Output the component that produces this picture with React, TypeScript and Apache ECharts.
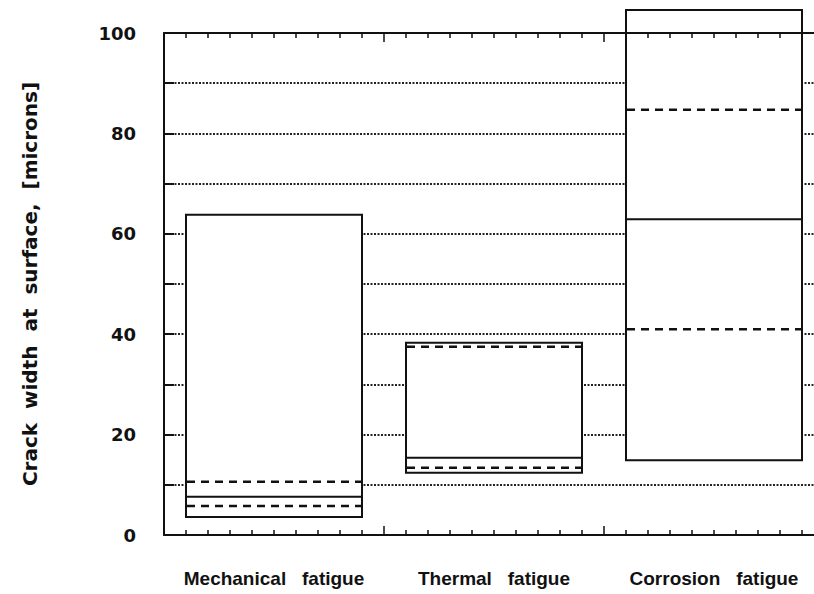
import React, { useEffect, useRef } from "react";
import * as echarts from "echarts";

const categories = ["Mechanical fatigue", "Thermal fatigue", "Corrosion fatigue"];
const boxLow = [3.6, 12.4, 14.9];
const boxHigh = [63.8, 38.3, 104.6];
const meanVal = [7.6, 15.4, 62.9];
const dashLow = [5.8, 13.4, 41.0];
const dashHigh = [10.6, 37.5, 84.7];
const yTicks = [0, 20, 40, 60, 80, 100];
const yName = "Crack width at surface, [microns]";

const INK = "#111";

export default function App() {
  const ref = useRef<HTMLDivElement>(null);
  useEffect(() => {
    document.body.style.margin = "0";
    const chart = echarts.init(ref.current!, null, { renderer: "svg" });
    const data = categories.map((c, i) => [i, boxLow[i], boxHigh[i], meanVal[i], dashLow[i], dashHigh[i]]);
    const tickAxis = (position: string, z: number) => ({
      type: "value",
      min: 0,
      max: 3,
      interval: 1,
      position,
      z,
      axisLine: { show: true, onZero: false, lineStyle: { color: INK, width: 2 } },
      axisTick: { show: true, inside: true, length: 9, lineStyle: { color: INK, width: 1.5 } },
      minorTick: { show: true, splitNumber: 10, length: 5, lineStyle: { color: INK, width: 1.5 } },
      axisLabel: { show: false },
      splitLine: { show: false },
      minorSplitLine: { show: false },
    });
    chart.setOption({
      animation: false,
      backgroundColor: "#fff",
      grid: { left: 164, top: 33, height: 502, width: 660, outerBoundsMode: "none", containLabel: false },
      xAxis: [
        {
          type: "category",
          data: categories,
          position: "bottom",
          axisLine: { show: false, onZero: false },
          axisTick: { show: false },
          splitLine: { show: false },
          axisLabel: {
            interval: 0,
            margin: 34,
            fontSize: 19,
            fontWeight: "bold",
            fontFamily: "Liberation Sans Narrow, Liberation Sans, Arial",
            color: INK,
            formatter: (v: string) => v.replace(" ", "   "),
          },
        },
        tickAxis("bottom", 10),
        tickAxis("top", 10),
      ],
      yAxis: {
        type: "value",
        min: 0,
        max: 100,
        interval: 10,
        z: 0,
        name: yName.split(" ").join("  "),
        nameLocation: "middle",
        nameGap: 124,
        nameTextStyle: {
          fontSize: 20,
          fontWeight: "bold",
          fontFamily: "DejaVu Sans, Liberation Sans, Arial",
          color: INK,
        },
        axisLine: { show: true, lineStyle: { color: INK, width: 2 } },
        axisTick: { show: true, inside: true, length: 10, lineStyle: { color: INK, width: 2 } },
        axisLabel: {
          margin: 28,
          fontSize: 18,
          fontWeight: "bold",
          fontFamily: "DejaVu Sans, Liberation Sans, Arial",
          color: INK,
          formatter: (v: number) => (yTicks.indexOf(v) >= 0 ? String(v) : ""),
        },
        splitLine: { show: true, lineStyle: { color: "#222", width: 2, type: [2, 1.5] } },
      },
      series: [
        {
          type: "custom",
          xAxisIndex: 0,
          clip: false,
          z: 5,
          data,
          encode: { x: 0, y: [1, 2] },
          renderItem: (params: any, api: any) => {
            const x = api.value(0);
            const lo = api.coord([x, api.value(1)]);
            const hi = api.coord([x, api.value(2)]);
            const m = api.coord([x, api.value(3)]);
            const dl = api.coord([x, api.value(4)]);
            const dh = api.coord([x, api.value(5)]);
            const w = api.size([1, 0])[0] * 0.8;
            const left = lo[0] - w / 2;
            const hline = (y: number, dashed: boolean) => ({
              type: "line",
              shape: { x1: left + 1, y1: y, x2: left + w - 1, y2: y },
              style: { stroke: INK, lineWidth: dashed ? 2.5 : 2, lineDash: dashed ? [8, 6] : null },
            });
            return {
              type: "group",
              children: [
                {
                  type: "rect",
                  shape: { x: left, y: hi[1], width: w, height: lo[1] - hi[1] },
                  style: { fill: "#fff", stroke: INK, lineWidth: 2 },
                },
                hline(m[1], false),
                hline(dl[1], true),
                hline(dh[1], true),
              ],
            };
          },
        },
      ],
    });
    return () => chart.dispose();
  }, []);
  return <div ref={ref} style={{ width: 814, height: 594 }} />;
}
